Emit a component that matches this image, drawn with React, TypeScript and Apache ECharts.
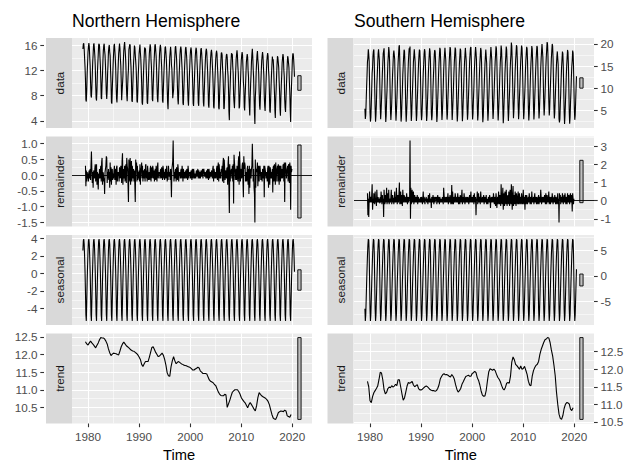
import React, { useEffect, useRef } from 'react';
import * as echarts from 'echarts';

const FONT = '"Liberation Sans", Arial, Helvetica, sans-serif';

// ---- time base ----
const START_YEAR = 1979; // Jan 1979
const N_MONTHS = 498; // Jan 1979 .. Jun 2020
const TREND_START = 1979.5; // trend / remainder defined from Jul 1979
const TREND_STEP = 0.25; // trend read quarterly

// ---- seasonal component (Jan..Dec) ----
const nhSeasonal = [2.6, 3.7, 3.9, 3.3, 1.9, 0.2, -2.1, -4.7, -5.4, -3.2, -0.9, 0.9];
const shSeasonal = [-6.4, -8.8, -7.6, -4.6, -1.5, 1.3, 3.9, 6.0, 7.2, 7.0, 4.5, -0.9];

// ---- trend component, quarterly from 1979.5 ----
const nhTrend = [
  12.36, 12.30,
  12.27, 12.33, 12.38, 12.33,
  12.29, 12.24, 12.19, 12.26,
  12.33, 12.42, 12.48, 12.47,
  12.47, 12.44, 12.38, 12.30,
  12.16, 12.05, 11.97, 12.01,
  12.04, 12.03, 12.02, 12.00,
  11.99, 12.10, 12.22, 12.30,
  12.35, 12.30, 12.25, 12.22,
  12.19, 12.15, 12.12, 12.10,
  12.09, 12.06, 12.03, 11.99,
  11.93, 11.86, 11.72, 11.66,
  11.74, 11.80, 11.80, 11.80,
  11.92, 12.06, 12.20, 12.22,
  12.14, 12.06, 12.00, 11.94,
  11.96, 12.00, 12.04, 11.98,
  11.86, 11.70, 11.48, 11.40,
  11.38, 11.65, 11.82, 11.94,
  11.82, 11.74, 11.78, 11.80,
  11.77, 11.74, 11.72, 11.70,
  11.69, 11.68, 11.66, 11.65,
  11.63, 11.60, 11.56, 11.56,
  11.59, 11.61, 11.64, 11.62,
  11.53, 11.50, 11.46, 11.46,
  11.46, 11.45, 11.36, 11.28,
  11.24, 11.22, 11.20, 11.15,
  11.12, 11.03, 10.94, 10.88,
  10.84, 10.83, 10.83, 10.87,
  10.86, 10.50, 10.60, 10.70,
  10.82, 10.93, 10.97, 11.00,
  11.00, 11.00, 10.95, 10.88,
  10.78, 10.72, 10.67, 10.63,
  10.56, 10.49, 10.58, 10.64,
  10.58, 10.52, 10.45, 10.40,
  10.55, 10.78, 10.92, 10.87,
  10.83, 10.80, 10.78, 10.76,
  10.72, 10.67, 10.58, 10.44,
  10.30, 10.20, 10.17, 10.16,
  10.25, 10.35, 10.38, 10.40,
  10.39, 10.38, 10.42, 10.40,
  10.26, 10.24, 10.22, 10.30,
];
const shTrend = [
  11.65, 11.50,
  11.10, 11.05, 11.22, 11.33,
  11.39, 11.45, 11.52, 11.70,
  11.91, 11.89, 11.70, 11.42,
  11.30, 11.34, 11.45, 11.49,
  11.47, 11.53, 11.49, 11.52,
  11.57, 11.53, 11.70, 11.70,
  11.50, 11.30, 11.12, 11.18,
  11.35, 11.52, 11.62, 11.60,
  11.62, 11.65, 11.55, 11.50,
  11.53, 11.56, 11.45, 11.41,
  11.41, 11.43, 11.47, 11.50,
  11.52, 11.50, 11.46, 11.42,
  11.40, 11.39, 11.39, 11.37,
  11.39, 11.45, 11.55, 11.72,
  11.79, 11.85, 11.87, 11.84,
  11.85, 11.83, 11.80, 11.78,
  11.85, 11.80, 11.72, 11.56,
  11.43, 11.35, 11.39, 11.45,
  11.57, 11.64, 11.72, 11.79,
  11.81, 11.83, 11.80, 11.80,
  11.88, 11.90, 11.94, 11.90,
  11.76, 11.68, 11.55, 11.38,
  11.26, 11.23, 11.24, 11.40,
  11.68, 11.93, 12.01, 11.99,
  11.97, 12.00, 11.96, 11.86,
  11.77, 11.72, 11.65, 11.54,
  11.45, 11.41, 11.48, 11.60,
  11.62, 11.60, 11.80, 12.20,
  12.35, 12.27, 12.14, 12.10,
  12.05, 12.00, 12.09, 12.00,
  12.02, 12.08, 11.97, 11.85,
  11.66, 11.55, 11.53, 11.80,
  11.96, 12.05, 12.11, 12.14,
  12.22, 12.42, 12.56, 12.66,
  12.76, 12.84, 12.86, 12.90,
  12.89, 12.76, 12.55, 12.38,
  12.12, 11.82, 11.35, 11.00,
  10.72, 10.60, 10.57, 10.68,
  10.88, 11.00, 11.05, 11.04,
  11.01, 10.86, 10.82, 10.90,
];

// ---- remainder component, monthly Jul 1979 .. Dec 2019 ----
const nhRemainder = [
  0.3, -0.35, 0.15, -0.2, 0.1, -0.1,
  0.05, -0.2, 0.1, 0.15, -0.1, 0.2, -0.15, 0.3, 0.75, 0.2, -0.25, 0.1,
  -0.4, 0.1, 0.15, -0.1, 0.2, 0.35, -0.2, 0.1, 0.35, -0.3, 0.1, -0.15,
  -0.45, 0.05, -0.1, 0.2, -0.1, 0.15, 0.3, -0.2, 0.4, 0.55, -0.3, 0.1,
  0.05, -0.2, -0.1, -0.6, 0.1, 0.2, 0.3, 0.6, 0.55, -0.25, 0.1, -0.1,
  0.2, -0.15, 0.1, -0.4, 0.4, -0.2, 0.25, -0.3, 0.1, 0.2, -0.15, 0.05,
  -0.1, 0.15, 0.3, -0.15, 0.1, 0.2, -0.3, 0.25, 0.3, -0.2, 0.1, 0.05,
  0.1, -0.2, 0.25, 0.1, -0.1, 0.3, 0.2, -0.25, 0.45, 0.7, -0.3, 0.15,
  0.2, -0.1, 0.3, -0.2, 0.15, 0.35, -0.25, 0.55, 0.3, 0.2, -0.3, -0.85,
  0.5, -0.2, 0.1, 0.55, -0.3, 0.2, 0.45, -0.2, 0.3, 0.15, -0.1, 0.2,
  -0.2, 0.15, -0.3, -0.85, 0.5, 0.2, 0.4, -0.2, 0.3, -0.15, 0.1, -0.1,
  0.15, -0.2, 0.35, -0.3, 0.1, 0.2, 0.4, -0.1, 0.3, -0.2, 0.15, 0.1,
  -0.1, 0.2, -0.2, 0.3, 0.35, -0.1, 0.15, -0.2, 0.3, 0.1, -0.15, 0.05,
  0.1, -0.15, 0.2, 0.3, -0.2, 0.1, 0.25, -0.1, 0.3, 0.2, -0.1, 0.15,
  -0.2, 0.1, 0.2, -0.15, 0.3, 0.1, -0.2, 0.25, 0.4, -0.1, 0.1, 0.05,
  0.1, -0.1, 0.15, 0.2, -0.1, 0.25, 0.1, -0.15, 0.3, 0.2, -0.1, 0.1,
  -0.15, 0.1, 0.2, -0.1, 0.15, 0.3, -0.2, 0.1, -0.15, 0.3, 0.1, -0.05,
  0.1, -0.15, 0.2, -0.1, -0.7, 0.2, 0.3, 0.45, 1.1, 0.2, -0.2, 0.1,
  -0.1, 0.15, 0.2, -0.2, 0.25, 0.1, -0.15, 0.35, 0.2, -0.2, 0.1, 0.05,
  0.1, -0.1, 0.15, 0.2, -0.1, 0.3, 0.15, -0.2, 0.2, 0.1, -0.1, 0.1,
  -0.1, 0.1, 0.15, -0.1, 0.2, 0.1, -0.15, 0.3, 0.15, -0.1, 0.1, 0.05,
  0.1, -0.1, 0.15, 0.1, -0.15, 0.2, 0.1, -0.1, 0.2, 0.1, -0.1, 0.05,
  0.05, -0.1, 0.1, 0.15, -0.05, 0.1, 0.2, -0.1, 0.15, 0.1, -0.1, 0.1,
  -0.1, 0.1, 0.15, -0.05, 0.1, 0.2, -0.1, 0.15, 0.2, 0.1, -0.05, 0.1,
  0.05, -0.1, 0.1, 0.15, -0.1, 0.2, 0.1, -0.15, 0.2, 0.1, -0.1, 0.05,
  0.1, -0.05, 0.15, 0.1, -0.1, 0.2, 0.3, -0.2, 0.2, 0.1, -0.1, 0.1,
  0.1, -0.1, 0.2, 0.3, -0.15, 0.2, 0.4, -0.2, 0.35, 0.15, -0.1, 0.1,
  -0.1, 0.2, 0.1, 0.3, -0.2, 0.35, 0.55, -0.25, 0.5, 0.2, -0.15, 0.1,
  0.15, -0.1, 0.2, 0.25, -0.3, 0.35, 0.6, -0.4, -1.2, 0.35, -0.2, 0.1,
  0.1, 0.2, -0.1, 0.3, -0.2, 0.35, -0.9, 0.65, 0.4, 0.2, -0.15, 0.1,
  0.2, -0.15, 0.3, 0.1, -0.2, 0.4, 0.6, -0.3, 0.75, 0.3, -0.2, 0.1,
  0.2, -0.1, 0.3, 0.4, -0.2, -0.7, 0.6, 0.2, 0.4, 0.3, -0.2, 0.1,
  0.1, -0.2, 0.2, 0.3, -0.3, 0.2, -0.6, 0.3, -0.4, 0.2, 0.1, -0.1,
  0.2, 0.3, 1.0, 0.4, -0.2, 0.2, -0.4, -0.6, -1.5, 0.5, -0.4, 0.2,
  0.1, 0.2, 0.4, -0.35, 0.2, 0.3, -0.2, 0.2, 0.3, 0.1, -0.15, 0.1,
  0.1, -0.2, 0.2, 0.15, -0.1, 0.3, -0.7, 0.3, 0.2, 0.1, -0.1, 0.05,
  0.1, -0.2, 0.2, 0.3, -0.4, 0.3, 0.2, -0.3, 0.25, 0.1, -0.1, 0.1,
  -0.1, 0.2, -0.55, 0.25, 0.3, -0.2, 0.35, 0.2, -0.3, 0.4, -0.2, 0.1,
  0.1, 0.3, -0.2, 0.35, 0.2, -0.3, 0.3, 0.25, -0.2, 0.3, 0.1, -0.1,
  0.2, -0.1, 0.3, 0.35, -0.2, 0.4, -0.85, 0.3, 0.4, 0.2, -0.1, 0.1,
  0.2, 0.3, -0.2, 0.35, 0.3, -0.25, 0.4, 0.2, -1.1, 0.3, 0.1, 0.2,
];
const shRemainder = [
  0.4, -0.8, 0.1, -0.9, 0.1, 0.5,
  -0.1, 0.2, 0.05, -0.1, 0.3, 0.9, -0.5, 0.1, -0.15, 0.4, 0.05, -0.2,
  0.5, -0.1, 0.15, -0.3, 0.6, 0.1, -0.1, 0.2, -0.1, 0.1, 0.05, -0.15,
  0.2, -0.1, 0.5, 0.1, -0.2, 0.3, -0.1, 0.1, -0.9, 0.6, 0.1, -0.2,
  0.3, -0.1, 0.15, 0.7, -0.2, 0.1, 0.4, -0.1, 0.6, -0.2, 0.1, 0.05,
  -0.1, 0.2, 0.6, -0.2, 0.1, 0.3, -0.1, 0.15, -0.2, 0.1, 0.5, -0.1,
  0.2, -0.1, 0.7, 0.1, -0.2, 0.3, 0.2, -0.1, 0.4, 1.0, -0.2, 0.1,
  0.5, -0.2, 0.1, 0.3, -0.3, 0.6, 0.1, -0.1, 0.3, 0.2, -0.1, 0.05,
  0.2, -0.1, 0.4, 0.1, -0.2, 0.2, 0.1, -0.1, 0.2, 0.05, 3.3, -1.0,
  0.7, -0.2, 0.1, 0.6, -0.1, 0.2, 0.5, -0.2, 0.1, 0.3, -0.1, 0.05,
  0.2, -0.1, 0.1, 0.3, -0.2, 0.1, 0.2, -0.1, 0.1, 0.05, -0.1, 0.2,
  -0.1, 0.2, 0.1, -0.2, 0.1, 0.5, -0.1, 0.2, 0.1, -0.2, 0.05, 0.1,
  0.2, -0.1, 0.1, 0.05, -0.2, 0.3, 0.1, -0.1, 0.4, -0.1, 0.1, 0.05,
  -0.4, 0.2, 0.1, -0.1, 0.3, 0.1, -0.2, 0.2, 0.05, -0.1, 0.2, 0.1,
  0.2, -0.2, 0.1, 0.3, -0.1, 0.2, 0.1, -0.2, 0.2, 0.05, -0.1, 0.1,
  0.1, -0.1, 0.2, 0.1, -0.2, 0.7, 0.3, -0.1, 0.1, 0.2, -0.1, 0.05,
  0.2, -0.1, 0.1, 0.4, -0.2, 0.2, 0.1, -0.1, 0.3, 0.1, -0.2, 0.1,
  0.85, -0.2, 0.5, 0.1, -0.2, 0.2, 0.1, -0.1, 0.4, 0.2, -0.1, 0.05,
  0.2, -0.1, 0.4, 0.1, -0.2, 0.2, 0.1, -0.2, 0.3, 0.1, -0.1, 0.2,
  0.6, -0.2, 0.1, 0.2, -0.1, 0.4, 0.1, -0.2, 0.1, 0.2, -0.1, 0.05,
  0.2, -0.1, 0.2, 0.1, -0.2, 0.1, 0.3, -0.1, 0.1, 0.5, -0.1, 0.1,
  0.2, -0.1, 0.1, 0.3, -0.2, 0.4, 0.1, -0.1, 0.2, -0.8, 0.1, 0.05,
  0.5, -0.2, 0.1, 0.4, -0.1, 0.2, 0.1, -0.2, 0.5, 0.1, -0.1, 0.05,
  0.2, -0.1, 0.1, 0.3, -0.2, 0.1, 0.2, -0.1, 0.1, 0.3, -0.2, 0.1,
  0.1, -0.2, 0.2, 0.1, -0.1, 0.3, 0.1, -0.4, 0.1, 0.2, -0.1, 0.05,
  0.2, -0.1, 0.4, 0.1, -0.2, 0.2, 0.1, -0.3, 0.4, 0.1, -0.4, 0.1,
  0.2, -0.2, 0.5, 0.1, -0.2, 0.3, 0.2, -0.3, 0.9, 0.2, -0.2, 0.1,
  0.7, -0.5, 0.2, 0.4, -0.3, 0.5, 0.2, -0.2, 0.6, 0.1, -0.3, 0.2,
  0.3, -0.2, 0.5, 0.2, -0.3, 0.6, 0.2, -0.2, 0.9, 0.3, -0.5, 0.1,
  0.8, -0.3, 0.3, 0.2, -0.2, 0.5, 0.1, -0.3, 0.4, 0.2, -0.2, 0.1,
  0.5, -0.2, 0.2, 0.4, -0.2, 0.2, 0.1, -0.2, 0.4, 0.1, -0.2, 0.1,
  0.6, -0.2, 0.2, 0.1, -0.5, 0.3, 0.2, -0.2, 0.3, 0.1, -0.2, 0.1,
  0.2, -0.1, 0.4, 0.1, -0.2, 0.2, 0.1, -0.2, 0.5, 0.1, -0.1, 0.05,
  0.2, -0.2, 0.1, 0.4, -0.1, 0.2, 0.1, -0.2, 0.2, 0.1, -0.2, 0.1,
  0.3, -0.2, 0.1, 0.2, -0.1, 0.6, 0.2, -0.2, 0.1, 0.2, -0.1, 0.05,
  0.2, -0.1, 0.3, 0.1, -0.2, 0.4, 0.1, -0.2, 0.3, 0.1, -0.1, 0.1,
  0.5, -0.2, 0.1, 0.2, -0.2, 0.1, 0.2, -0.1, 0.4, 0.1, -0.2, 0.05,
  0.2, -0.1, 0.3, 0.1, -0.2, 0.2, 0.1, -0.2, 0.1, 0.4, -0.2, 0.1,
  -1.2, 0.4, 0.1, 0.3, -0.2, 0.1, 0.2, -0.1, 0.4, 0.1, -0.2, 0.1,
  0.3, -0.1, 0.4, 0.1, -0.2, 0.2, 0.1, -0.2, 0.4, 0.1, -0.1, 0.3,
  0.1, -0.2, 0.3, 0.4, -0.1, 0.3, 0.1, -0.6, 0.4, 0.1, -0.2, 0.1,
];

// ---- observed data for the months outside the trend window ----
const nhDataHead = [15.4, 16.2, 16.3, 15.4, 13.9, 12.5]; // Jan-Jun 1979
const nhDataTail = [13.6, 14.6, 14.7, 13.8, 12.5, 11.0]; // Jan-Jun 2020
const shDataHead = [5.4, 3.1, 4.0, 7.2, 10.3, 13.0];
const shDataTail = [5.3, 2.9, 3.9, 6.9, 9.9, 12.7];

// ---- axis ticks ----
const xMajorTicks = [1980, 1990, 2000, 2010, 2020];
const xMinorTicks = [1985, 1995, 2005, 2015];
const nhDataTicks = [4, 8, 12, 16];
const nhDataMinor = [2, 6, 10, 14, 18];
const nhRemTicks = [-1.5, -1.0, -0.5, 0, 0.5, 1.0];
const nhRemMinor = [-1.75, -1.25, -0.75, -0.25, 0.25, 0.75, 1.25];
const nhSeasTicks = [-4, -2, 0, 2, 4];
const nhSeasMinor = [-5, -3, -1, 1, 3, 5];
const nhTrendTicks = [10.5, 11.0, 11.5, 12.0, 12.5];
const nhTrendMinor = [10.25, 10.75, 11.25, 11.75, 12.25, 12.75];
const shDataTicks = [5, 10, 15, 20];
const shDataMinor = [2.5, 7.5, 12.5, 17.5, 22.5];
const shRemTicks = [-1, 0, 1, 2, 3];
const shRemMinor = [-1.5, -0.5, 0.5, 1.5, 2.5, 3.5];
const shSeasTicks = [-5, 0, 5];
const shSeasMinor = [-7.5, -2.5, 2.5, 7.5];
const shTrendTicks = [10.5, 11.0, 11.5, 12.0, 12.5];
const shTrendMinor = [10.25, 10.75, 11.25, 11.75, 12.25, 12.75];

const facetNames = ['data', 'remainder', 'seasonal', 'trend'];

function buildHemisphere(seasonal: number[], trendQ: number[], rem: number[], head: number[], tail: number[]) {
  const data: number[][] = [];
  const seas: number[][] = [];
  const remS: number[][] = [];
  const trendS: number[][] = [];
  const off = Math.round((TREND_START - START_YEAR) * 12);
  for (let i = 0; i < N_MONTHS; i++) {
    const t = START_YEAR + i / 12;
    const s = seasonal[i % 12];
    seas.push([t, s]);
    const ri = i - off;
    const r = ri >= 0 && ri < rem.length ? rem[ri] : null;
    if (r !== null) remS.push([t, r]);
    let d: number;
    if (i < head.length) d = head[i];
    else if (i >= N_MONTHS - tail.length) d = tail[i - (N_MONTHS - tail.length)];
    else {
      const q = Math.max(0, Math.min(trendQ.length - 1, Math.round(ri / 3)));
      d = trendQ[q] + s + (r ?? 0);
    }
    data.push([t, +d.toFixed(3)]);
  }
  trendQ.forEach((v, q) => trendS.push([TREND_START + q * TREND_STEP, v]));
  return [data, remS, seas, trendS];
}

const FACET_TOPS = [38, 136.5, 235, 333.5];
const FACET_H = 90;
const PANEL_LEFT = [72, 354];
const PANEL_W = 240;
const STRIP_LEFT = [46, 327.5];
const STRIP_W = 26;

function buildOption() {
  const hemis = [
    {
      title: 'Northern Hemisphere',
      comps: buildHemisphere(nhSeasonal, nhTrend, nhRemainder, nhDataHead, nhDataTail),
      ticks: [nhDataTicks, nhRemTicks, nhSeasTicks, nhTrendTicks],
      minors: [nhDataMinor, nhRemMinor, nhSeasMinor, nhTrendMinor],
      decimals: [0, 1, 0, 1],
      side: 'left',
    },
    {
      title: 'Southern Hemisphere',
      comps: buildHemisphere(shSeasonal, shTrend, shRemainder, shDataHead, shDataTail),
      ticks: [shDataTicks, shRemTicks, shSeasTicks, shTrendTicks],
      minors: [shDataMinor, shRemMinor, shSeasMinor, shTrendMinor],
      decimals: [0, 0, 0, 1],
      side: 'right',
    },
  ];

  const tFirst = START_YEAR;
  const tLast = START_YEAR + (N_MONTHS - 1) / 12;
  const barW = (tLast - tFirst) / 64;
  const barL = tLast + barW;
  const barR = tLast + 2 * barW;
  const xPad = (barR - tFirst) * 0.05;
  const xMin = tFirst - xPad;
  const xMax = barR + xPad;

  const grid: any[] = [];
  const xAxis: any[] = [];
  const yAxis: any[] = [];
  const series: any[] = [];
  const graphic: any[] = [];

  hemis.forEach((h, hi) => {
    const ranges = h.comps.map((c) => {
      const v = c.map((p) => p[1]);
      return [Math.min(...v), Math.max(...v)];
    });
    const barLen = Math.min(...ranges.map((r) => r[1] - r[0]));
    h.comps.forEach((comp, f) => {
      const g = hi * 4 + f;
      const [lo, hiV] = ranges[f];
      const pad = (hiV - lo) * 0.05;
      const yMin = lo - pad;
      const yMax = hiV + pad;
      const isBottom = f === 3;
      grid.push({
        left: PANEL_LEFT[hi], top: FACET_TOPS[f], width: PANEL_W, height: FACET_H,
        show: true, backgroundColor: '#EBEBEB', borderWidth: 0,
      });
      xAxis.push({
        type: 'value', gridIndex: g, min: xMin, max: xMax, position: 'bottom',
        axisLine: { show: false },
        axisTick: { show: isBottom, length: 3.7, lineStyle: { color: '#333333', width: 1.1 }, customValues: xMajorTicks },
        axisLabel: {
          show: isBottom, customValues: xMajorTicks, color: '#4D4D4D', fontSize: 11.7, fontFamily: FONT, margin: 6.5,
          formatter: (v: number) => String(Math.round(v)),
        },
        splitLine: { show: true, lineStyle: { color: '#FFFFFF', width: 1.1 } },
      });
      xAxis.push({
        type: 'value', gridIndex: g, min: xMin, max: xMax, position: 'bottom',
        axisLine: { show: false },
        axisTick: { show: false, customValues: xMinorTicks },
        axisLabel: { show: false },
        splitLine: { show: true, lineStyle: { color: '#FFFFFF', width: 0.55 } },
      });
      const dec = h.decimals[f];
      yAxis.push({
        type: 'value', gridIndex: g, min: yMin, max: yMax, position: h.side,
        offset: h.side === 'left' ? 28 : 0,
        axisLine: { show: false },
        axisTick: { show: true, length: 3.7, lineStyle: { color: '#333333', width: 1.1 }, customValues: h.ticks[f] },
        axisLabel: {
          show: true, customValues: h.ticks[f], color: '#4D4D4D', fontSize: 11.7, fontFamily: FONT, margin: 6.5,
          formatter: (v: number) => v.toFixed(dec),
        },
        splitLine: { show: true, lineStyle: { color: '#FFFFFF', width: 1.1 } },
      });
      yAxis.push({
        type: 'value', gridIndex: g, min: yMin, max: yMax, position: h.side,
        axisLine: { show: false },
        axisTick: { show: false, customValues: h.minors[f] },
        axisLabel: { show: false },
        splitLine: { show: true, lineStyle: { color: '#FFFFFF', width: 0.55 } },
      });
      const lineSeries: any = {
        type: 'line', xAxisIndex: 2 * g, yAxisIndex: 2 * g, data: comp,
        symbol: 'none', showSymbol: false, silent: true, z: 3,
        lineStyle: { color: '#000000', width: 1.1 },
      };
      if (f === 1) {
        lineSeries.markLine = {
          silent: true, symbol: 'none', label: { show: false },
          lineStyle: { color: '#000000', width: 0.9, type: 'solid' },
          data: [{ yAxis: 0 }],
        };
      }
      series.push(lineSeries);
      const mid = (lo + hiV) / 2;
      series.push({
        type: 'custom', xAxisIndex: 2 * g, yAxisIndex: 2 * g, silent: true, z: 4,
        data: [[barL, barR, mid - barLen / 2, mid + barLen / 2]],
        encode: { x: [0, 1], y: [2, 3] },
        renderItem: (_p: any, api: any) => {
          const a = api.coord([api.value(0), api.value(3)]);
          const b = api.coord([api.value(1), api.value(2)]);
          return {
            type: 'rect',
            shape: { x: a[0], y: a[1], width: b[0] - a[0], height: b[1] - a[1] },
            style: { fill: '#BFBFBF', stroke: '#000000', lineWidth: 0.9 },
          };
        },
      });
      // strip
      graphic.push({
        type: 'rect', silent: true, z: 1,
        shape: { x: STRIP_LEFT[hi], y: FACET_TOPS[f], width: STRIP_W, height: FACET_H },
        style: { fill: '#D9D9D9' },
      });
      graphic.push({
        type: 'text', silent: true, z: 2,
        x: STRIP_LEFT[hi] + STRIP_W / 2, y: FACET_TOPS[f] + FACET_H / 2, rotation: Math.PI / 2,
        style: {
          text: facetNames[f], fill: '#1A1A1A', fontSize: 11.7, fontFamily: FONT,
          align: 'center', verticalAlign: 'middle',
        },
      });
    });
    graphic.push({
      type: 'text', silent: true,
      x: (STRIP_LEFT[hi] + PANEL_LEFT[hi] + PANEL_W) / 2, y: 454.5,
      style: { text: 'Time', fill: '#000000', fontSize: 14.7, fontFamily: FONT, align: 'center', verticalAlign: 'middle' },
    });
  });

  return {
    animation: false,
    backgroundColor: '#FFFFFF',
    textStyle: { fontFamily: FONT },
    title: hemis.map((h, hi) => ({
      text: h.title, left: PANEL_LEFT[hi], top: 12, padding: 0,
      textStyle: { fontSize: 17.6, fontWeight: 'normal', color: '#000000', fontFamily: FONT },
    })),
    grid, xAxis, yAxis, series, graphic,
  };
}

export default function App() {
  const ref = useRef<HTMLDivElement>(null);
  useEffect(() => {
    if (!ref.current) return;
    const chart = echarts.init(ref.current, undefined, { renderer: 'svg' });
    chart.setOption(buildOption() as any);
    return () => chart.dispose();
  }, []);
  return (
    <div
      ref={ref}
      style={{ position: 'absolute', left: 0, top: 0, width: 629, height: 461, background: '#FFFFFF' }}
    />
  );
}
